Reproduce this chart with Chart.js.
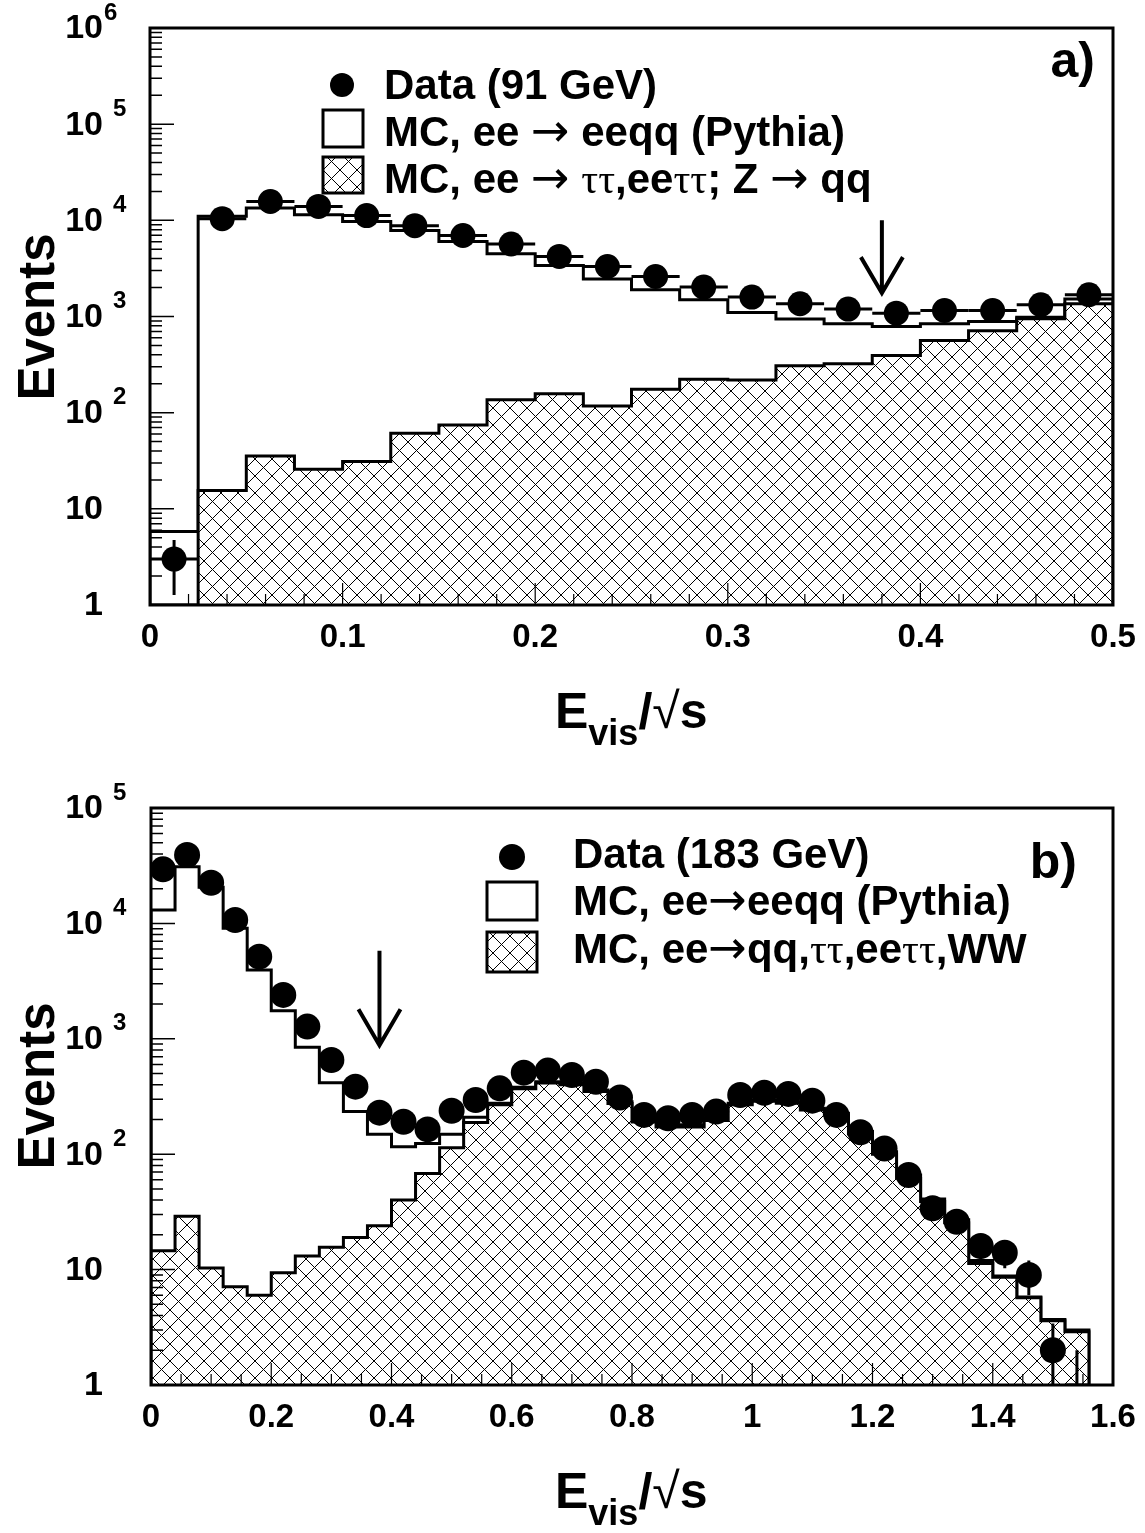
<!DOCTYPE html>
<html lang="en">
<head>
<meta charset="UTF-8">
<title>Evis/sqrt(s) at 91 and 183 GeV</title>
<script src="https://cdn.jsdelivr.net/npm/chart.js@4.4.1/dist/chart.umd.min.js"></script>
<style>
  html, body { margin: 0; padding: 0; background: #fff; }
  canvas { display: block; }
</style>
</head>
<body>
<canvas id="panelA" width="1145" height="766"></canvas>
<canvas id="panelB" width="1145" height="767"></canvas>
<script>
// ---------- panel a) : 91 GeV, 20 bins of 0.025
const binWidthA = 0.025;
const dataA = [3, 10400, 15700, 13950, 11200, 8800, 6960, 5670, 4215, 3313,
               2608, 2024, 1592, 1356, 1194, 1084, 1155, 1155, 1324, 1682];
const eeqqA = [5.8, 11000, 13400, 11400, 9750, 7850, 6040, 4490, 3395, 2450,
               1897, 1492, 1100, 940, 840, 787, 840, 887, 980, 1517];
const bkgA  = [0, 15.5, 35.5, 25.8, 31, 61, 74.6, 136, 157, 117,
               175, 223, 219, 307, 322, 393, 563, 710, 950, 1356];
const xTickLabelsA = ['0', '0.1', '0.2', '0.3', '0.4', '0.5'];
const yTickLabelsA = [['1', ''], ['10', ''], ['10', '2'], ['10', '3'], ['10', '4'], ['10', '5'], ['10', '6']];
const cutA = { x: 0.38, from: 10000, to: 1750 };

// ---------- panel b) : 183 GeV, 39 bins of 0.04
const binWidthB = 0.04;
const dataB = [29400, 39100, 22500, 10700, 5150, 2400, 1275, 655, 385, 229,
               191, 164, 238, 295, 372, 509, 530, 486, 425, 310,
               219, 205, 219, 234, 326, 341, 333, 291, 219, 155,
               112, 66, 34, 26, 16, 14, 9, 2, 1];
const eeqqB = [13060, 31000, 20550, 9060, 3945, 1754, 844, 417, 234, 149,
               116, 124, 149, 209, 276, 380, 425, 411, 360, 285,
               198, 180, 180, 205, 276, 295, 285, 250, 226, 157,
               105, 66, 41, 27, 12, 8.8, 5.8, 3.7, 3.0];
const bkgB  = [14.6, 29, 10.3, 7.1, 6.0, 9.4, 13.1, 15.6, 19, 24,
               40, 68, 114, 188, 268, 370, 415, 400, 350, 275,
               190, 172, 172, 196, 268, 287, 277, 242, 218, 150,
               100, 62, 39, 25.5, 11.3, 8.6, 5.7, 3.6, 2.9];
const xTickLabelsB = ['0', '0.2', '0.4', '0.6', '0.8', '1', '1.2', '1.4', '1.6'];
const yTickLabelsB = [['1', ''], ['10', ''], ['10', '2'], ['10', '3'], ['10', '4'], ['10', '5']];
const cutB = { x: 0.38, from: 5800, to: 880 };

const W = 1145;
const SANS = '"Liberation Sans", Arial, Helvetica, sans-serif';
const B42 = 'bold 42px ' + SANS;
const GREEK = '42px "Liberation Serif", "DejaVu Serif", serif';
const ARROW = '46px "DejaVu Sans", sans-serif';

function makeHatch() {
  const s = 17;
  const c = document.createElement('canvas');
  c.width = s; c.height = s;
  const g = c.getContext('2d');
  g.fillStyle = '#fff';
  g.fillRect(0, 0, s, s);
  g.strokeStyle = '#000';
  g.lineWidth = 1;
  g.beginPath();
  g.moveTo(-2, -2); g.lineTo(s + 2, s + 2);
  g.moveTo(s + 2, -2); g.lineTo(-2, s + 2);
  g.stroke();
  return g.createPattern(c, 'repeat');
}
const hatch = makeHatch();

// step outline: closed down to the axis at both ends
function histPoints(vals, w, floor) {
  const n = vals.length;
  const pts = [{ x: 0, y: floor }];
  vals.forEach((v, i) => pts.push({ x: i * w, y: Math.max(v, floor) }));
  pts.push({ x: n * w, y: Math.max(vals[n - 1], floor) });
  pts.push({ x: n * w, y: floor });
  return pts;
}

function richText(ctx, x, y, parts) {
  let cx = x;
  parts.forEach(([txt, font]) => {
    ctx.font = font;
    ctx.fillText(txt, cx, y);
    cx += ctx.measureText(txt).width;
  });
}

function decor(p) {
  return {
    id: 'decor',
    afterDatasetsDraw(chart) {
      const { ctx, chartArea: a, scales: { x, y } } = chart;
      ctx.save();
      ctx.beginPath();
      ctx.rect(a.left, a.top, a.right - a.left, a.bottom - a.top);
      ctx.clip();
      ctx.strokeStyle = '#000';
      ctx.lineWidth = 3;
      p.data.forEach((v, i) => {
        if (v <= 0) return;
        const err = Math.sqrt(v);
        const cx = x.getPixelForValue((i + 0.5) * p.w);
        const cy = y.getPixelForValue(v);
        const lo = v - err > 0 ? y.getPixelForValue(v - err) : a.bottom + 10;
        ctx.beginPath();
        ctx.moveTo(x.getPixelForValue(i * p.w), cy);
        ctx.lineTo(x.getPixelForValue((i + 1) * p.w), cy);
        ctx.moveTo(cx, Math.min(lo, a.bottom + 10));
        ctx.lineTo(cx, y.getPixelForValue(v + err));
        ctx.stroke();
      });
      ctx.restore();
    },
    afterDraw(chart) {
      const { ctx, chartArea: a, scales: { x, y } } = chart;
      ctx.save();
      ctx.fillStyle = '#000';
      ctx.strokeStyle = '#000';

      // inside ticks
      ctx.lineWidth = 1.5;
      ctx.beginPath();
      for (let e = 0; e < p.yTicks.length - 1; e++) {
        for (let m = 1; m <= 9; m++) {
          const py = y.getPixelForValue(m * Math.pow(10, e));
          ctx.moveTo(a.left, py);
          ctx.lineTo(a.left + (m === 1 ? 24 : 12), py);
        }
      }
      ctx.stroke();
      ctx.lineWidth = 1.2;
      ctx.beginPath();
      const nMinor = Math.round(p.xMax / p.xMinor);
      const per = Math.round(p.xMajor / p.xMinor);
      for (let k = 0; k <= nMinor; k++) {
        const px = x.getPixelForValue(k * p.xMinor);
        ctx.moveTo(px, a.bottom);
        ctx.lineTo(px, a.bottom - (k % per === 0 ? 22 : 11));
      }
      ctx.stroke();

      // frame
      ctx.lineWidth = 3;
      ctx.strokeRect(a.left, a.top, a.right - a.left, a.bottom - a.top);

      // y labels 1, 10, 10^n
      p.yTicks.forEach(([base, expo], e) => {
        const py = y.getPixelForValue(Math.pow(10, e));
        ctx.font = 'bold 34px ' + SANS;
        ctx.textAlign = 'right';
        ctx.textBaseline = 'middle';
        ctx.fillText(base, 103, py + 1);
        if (expo) {
          ctx.font = 'bold 24px ' + SANS;
          ctx.textAlign = 'left';
          const tight = p.tightTop && e === p.yTicks.length - 1;
          ctx.fillText(expo, tight ? 104 : 113, py - 15);
        }
      });

      // x labels
      ctx.font = 'bold 33px ' + SANS;
      ctx.textAlign = 'center';
      ctx.textBaseline = 'middle';
      p.xTicks.forEach(t => ctx.fillText(t, x.getPixelForValue(parseFloat(t)), a.bottom + 33));

      // axis titles
      ctx.textAlign = 'left';
      ctx.textBaseline = 'alphabetic';
      const tb = a.bottom + 123;
      ctx.font = 'bold 50px ' + SANS;
      let cx = 555;
      ctx.fillText('E', cx, tb); cx += ctx.measureText('E').width;
      ctx.font = 'bold 36px ' + SANS;
      ctx.fillText('vis', cx, tb + 17); cx += ctx.measureText('vis').width;
      ctx.font = 'bold 50px ' + SANS;
      ctx.fillText('/', cx, tb); cx += ctx.measureText('/').width;
      ctx.font = '50px ' + SANS;
      ctx.fillText('\u221A', cx, tb); cx += ctx.measureText('\u221A').width;
      ctx.font = 'bold 50px ' + SANS;
      ctx.fillText('s', cx, tb);

      ctx.save();
      ctx.translate(54, p.eventsY);
      ctx.rotate(-Math.PI / 2);
      ctx.textAlign = 'center';
      ctx.font = 'bold 51px ' + SANS;
      ctx.fillText('Events', 0, 0);
      ctx.restore();

      // panel label
      ctx.textAlign = 'right';
      ctx.font = 'bold 50px ' + SANS;
      ctx.fillText(p.label, p.labelPos[0], p.labelPos[1]);

      // legend
      const L = p.legend;
      ctx.beginPath();
      ctx.arc(L.marker[0], L.marker[1], L.markerR, 0, 2 * Math.PI);
      ctx.fill();
      ctx.lineWidth = 3;
      ctx.fillStyle = '#fff';
      ctx.fillRect(...L.box1);
      ctx.strokeRect(...L.box1);
      ctx.fillStyle = hatch;
      ctx.fillRect(...L.box2);
      ctx.strokeRect(...L.box2);
      ctx.fillStyle = '#000';
      ctx.textAlign = 'left';
      L.rows.forEach((parts, r) => richText(ctx, L.textX, L.base[r], parts));

      // cut arrow
      const ax = x.getPixelForValue(p.cut.x);
      const y0 = y.getPixelForValue(p.cut.from);
      const y1 = y.getPixelForValue(p.cut.to);
      ctx.lineWidth = 4;
      ctx.beginPath();
      ctx.moveTo(ax, y0); ctx.lineTo(ax, y1);
      ctx.moveTo(ax - 21, y1 - 36); ctx.lineTo(ax, y1); ctx.lineTo(ax + 21, y1 - 36);
      ctx.stroke();
      ctx.restore();
    }
  };
}

function makeChart(p) {
  const floor = 1;
  return new Chart(document.getElementById(p.id), {
    type: 'line',
    data: {
      datasets: [
        {
          label: p.dataLabel,
          data: p.data.map((v, i) => ({ x: (i + 0.5) * p.w, y: v })),
          showLine: false,
          pointRadius: c => (c.raw && c.raw.y > floor ? p.markerR : 0),
          pointHoverRadius: 0,
          pointBackgroundColor: '#000',
          pointBorderWidth: 0,
          order: 0
        },
        {
          label: 'background',
          data: histPoints(p.bkg, p.w, floor),
          stepped: 'before',
          borderColor: '#000',
          borderWidth: 3,
          backgroundColor: hatch,
          fill: 'start',
          pointRadius: 0,
          order: 1
        },
        {
          label: 'eeqq',
          data: histPoints(p.eeqq, p.w, floor),
          stepped: 'before',
          borderColor: '#000',
          borderWidth: 3,
          backgroundColor: '#fff',
          fill: 'start',
          pointRadius: 0,
          order: 2
        }
      ]
    },
    options: {
      responsive: false,
      animation: false,
      events: [],
      layout: { padding: { left: 0, right: W - p.area.right, top: p.area.top, bottom: 0 } },
      plugins: { legend: { display: false }, tooltip: { enabled: false } },
      scales: {
        x: {
          type: 'linear', min: 0, max: p.xMax,
          ticks: { display: false }, grid: { display: false }, border: { display: false },
          afterFit: s => { s.height = p.height - p.area.bottom; }
        },
        y: {
          type: 'logarithmic', min: 1, max: Math.pow(10, p.yTicks.length - 1),
          ticks: { display: false }, grid: { display: false }, border: { display: false },
          afterFit: s => { s.width = p.area.left; }
        }
      }
    },
    plugins: [decor(p)]
  });
}

makeChart({
  id: 'panelA', height: 766, w: binWidthA, data: dataA, eeqq: eeqqA, bkg: bkgA,
  dataLabel: 'Data (91 GeV)', xMax: 0.5, xMajor: 0.1, xMinor: 0.02,
  xTicks: xTickLabelsA, yTicks: yTickLabelsA, tightTop: true, cut: cutA,
  area: { left: 150, right: 1113, top: 28, bottom: 605 },
  markerR: 12.5, eventsY: 317, label: 'a)', labelPos: [1095, 77],
  legend: {
    marker: [342, 85], markerR: 12, box1: [323, 110, 40, 37], box2: [323, 157, 40, 36],
    textX: 384, base: [99, 146, 193],
    rows: [
      [['Data (91 GeV)', B42]],
      [['MC, ee ', B42], ['\u2192', ARROW], [' eeqq (Pythia)', B42]],
      [['MC, ee ', B42], ['\u2192', ARROW], [' ', B42], ['\u03C4\u03C4', GREEK], [',ee', B42],
       ['\u03C4\u03C4', GREEK], ['; Z ', B42], ['\u2192', ARROW], [' qq', B42]]
    ]
  }
});

makeChart({
  id: 'panelB', height: 767, w: binWidthB, data: dataB, eeqq: eeqqB, bkg: bkgB,
  dataLabel: 'Data (183 GeV)', xMax: 1.6, xMajor: 0.2, xMinor: 0.05,
  xTicks: xTickLabelsB, yTicks: yTickLabelsB, tightTop: false, cut: cutB,
  area: { left: 151, right: 1113, top: 42, bottom: 619 },
  markerR: 13, eventsY: 320, label: 'b)', labelPos: [1077, 112],
  legend: {
    marker: [512, 91], markerR: 13, box1: [487, 116, 50, 38], box2: [487, 166, 50, 40],
    textX: 573, base: [102, 149, 197],
    rows: [
      [['Data (183 GeV)', B42]],
      [['MC, ee', B42], ['\u2192', ARROW], ['eeqq (Pythia)', B42]],
      [['MC, ee', B42], ['\u2192', ARROW], ['qq,', B42], ['\u03C4\u03C4', GREEK], [',ee', B42],
       ['\u03C4\u03C4', GREEK], [',WW', B42]]
    ]
  }
});
</script>
</body>
</html>
